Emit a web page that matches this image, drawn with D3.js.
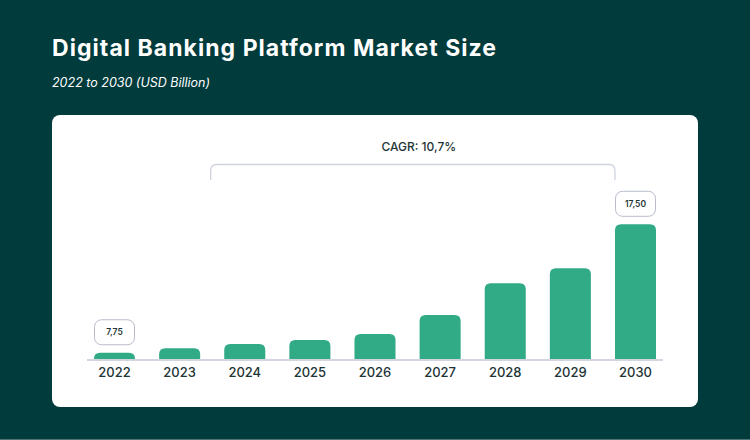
<!DOCTYPE html>
<html>
<head>
<meta charset="utf-8">
<script src="https://cdn.jsdelivr.net/npm/d3@7/dist/d3.min.js"></script>
<style>
  html, body { margin: 0; padding: 0; background: #013b3c; }
  svg { display: block; }
</style>
</head>
<body>
<svg id="chart" width="750" height="440"></svg>
<script>
const years = ["2022", "2023", "2024", "2025", "2026", "2027", "2028", "2029", "2030"];
const values = [7.75, 8.09, 8.41, 8.72, 9.17, 10.62, 13.02, 14.16, 17.50];
const valueLabels = ["7,75", "", "", "", "", "", "", "", "17,50"];
const titleText = "Digital Banking Platform Market Size";
const subtitleText = "2022 to 2030 (USD Billion)";
const cagrText = "CAGR: 10,7%";

const svg = d3.select("#chart");
const W = 750, H = 440;

svg.append("rect").attr("width", W).attr("height", H).attr("fill", "#013b3c");
svg.append("rect").attr("x", 0).attr("y", 439).attr("width", W).attr("height", 1).attr("fill", "#4f7373");

svg.append("text").attr("x", 52).attr("y", 55.5)
  .attr("font-family", "Inter, 'Open Sans', sans-serif").attr("font-weight", 700)
  .attr("font-size", 23).attr("fill", "#ffffff")
  .attr("textLength", 444).attr("lengthAdjust", "spacing")
  .text(titleText);

svg.append("text").attr("x", 52).attr("y", 87)
  .attr("font-family", "Inter, 'Open Sans', sans-serif").attr("font-style", "italic")
  .attr("font-size", 12.5).attr("fill", "#ffffff")
  .text(subtitleText);

// panel
svg.append("rect").attr("x", 52).attr("y", 115).attr("width", 646).attr("height", 292)
  .attr("rx", 8).attr("fill", "#ffffff");

const x = d3.scaleBand().domain(years).range([94, 656]).paddingInner(0.37).paddingOuter(0);
const y = d3.scaleLinear().domain([7.2, 17.5]).range([360, 224.3]);
const base = y(7.2);
const bw = x.bandwidth();
const r = 6;

function barPath(x0, y0, w, h) {
  const rr = Math.min(r, h, w / 2);
  return `M${x0},${y0 + h} L${x0},${y0 + rr} Q${x0},${y0} ${x0 + rr},${y0} L${x0 + w - rr},${y0} Q${x0 + w},${y0} ${x0 + w},${y0 + rr} L${x0 + w},${y0 + h} Z`;
}

const data = years.map((yr, i) => ({ yr, v: values[i], lab: valueLabels[i] }));

svg.append("g").selectAll("path").data(data).join("path")
  .attr("d", d => barPath(x(d.yr), y(d.v), bw, base - y(d.v)))
  .attr("fill", "#31aa86");

// baseline
svg.append("line")
  .attr("x1", x(years[0]) - 7).attr("x2", x(years[years.length - 1]) + bw + 7)
  .attr("y1", base).attr("y2", base)
  .attr("stroke", "#d3d6df").attr("stroke-width", 2);

// x axis labels
const xAxis = d3.axisBottom(x).tickSize(0).tickPadding(0);
const gx = svg.append("g").attr("transform", `translate(0,${base + 8})`).call(xAxis);
gx.select(".domain").remove();
gx.selectAll("text")
  .attr("dy", "0.71em")
  .attr("font-family", "Inter, 'Open Sans', sans-serif").attr("font-weight", 500)
  .attr("font-size", 13).attr("fill", "#1d3535");

// value label boxes
const lab = svg.append("g").selectAll("g").data(data.filter(d => d.lab)).join("g")
  .attr("transform", d => `translate(${x(d.yr) + bw / 2},${y(d.v) - 8})`);
lab.append("rect").attr("x", -20).attr("y", -25).attr("width", 40).attr("height", 25)
  .attr("rx", 7).attr("fill", "#ffffff").attr("stroke", "#b8bccc").attr("stroke-width", 1);
lab.append("text").attr("x", 0).attr("y", -12.5).attr("dy", "0.35em")
  .attr("text-anchor", "middle")
  .attr("font-family", "Inter, 'Open Sans', sans-serif").attr("font-weight", 600)
  .attr("font-size", 8.5).attr("fill", "#1d3535")
  .text(d => d.lab);

// CAGR bracket
const bl = x("2023") + bw + (x.step() - bw) / 2 - 1.5;
const br = x("2030");
const bt = 164.5, bb = 180, rc = 6;
svg.append("path")
  .attr("d", `M${bl},${bb} L${bl},${bt + rc} Q${bl},${bt} ${bl + rc},${bt} L${br - rc},${bt} Q${br},${bt} ${br},${bt + rc} L${br},${bb}`)
  .attr("fill", "none").attr("stroke", "#cfd3dd").attr("stroke-width", 1.3);

svg.append("text").attr("x", (bl + br) / 2 + 6).attr("y", 151)
  .attr("text-anchor", "middle")
  .attr("font-family", "Inter, 'Open Sans', sans-serif").attr("font-weight", 500)
  .attr("font-size", 12).attr("fill", "#1d3535")
  .text(cagrText);
</script>
</body>
</html>
